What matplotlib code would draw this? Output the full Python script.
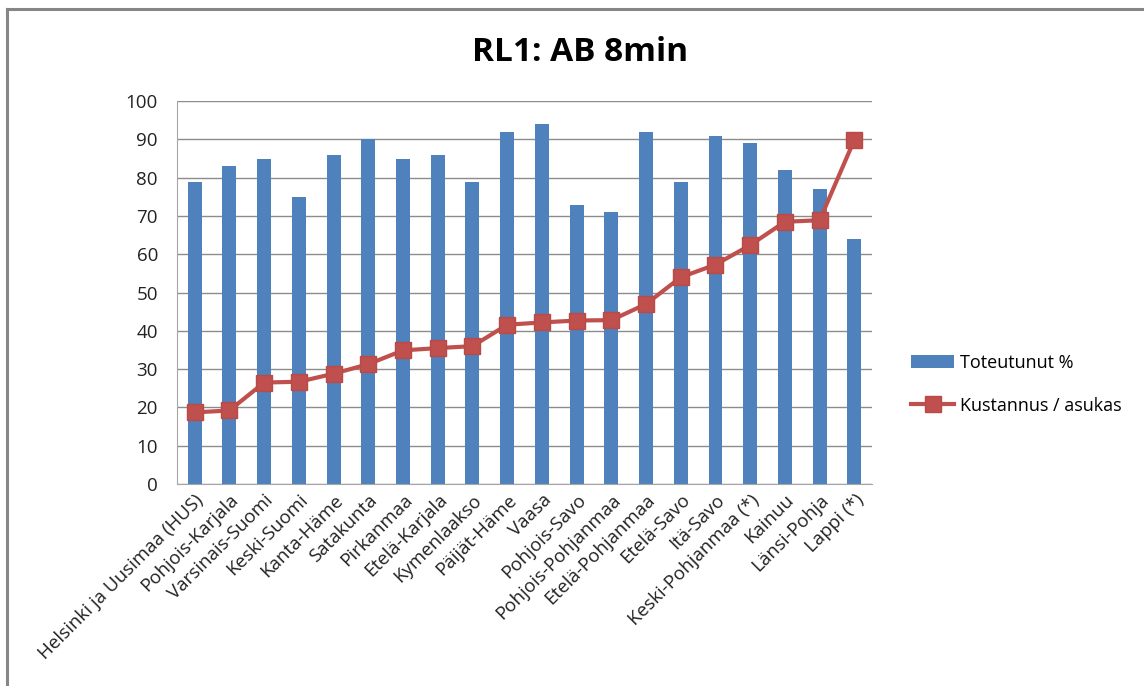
import matplotlib.pyplot as plt
import numpy as np

plt.rcParams['font.family'] = ['Open Sans', 'DejaVu Sans']

regions = ["Helsinki ja Uusimaa (HUS)", "Pohjois-Karjala", "Varsinais-Suomi",
           "Keski-Suomi", "Kanta-Häme", "Satakunta", "Pirkanmaa", "Etelä-Karjala",
           "Kymenlaakso", "Päijät-Häme", "Vaasa", "Pohjois-Savo",
           "Pohjois-Pohjanmaa", "Etelä-Pohjanmaa", "Etelä-Savo", "Itä-Savo",
           "Keski-Pohjanmaa (*)", "Kainuu", "Länsi-Pohja", "Lappi (*)"]
toteutunut = [79, 83, 85, 75, 86, 90, 85, 86, 79, 92,
              94, 73, 71, 92, 79, 91, 89, 82, 77, 64]
kustannus = [18.7, 19.2, 26.5, 26.7, 28.8, 31.3, 34.9, 35.5, 36.0, 41.6,
             42.2, 42.7, 42.8, 47.0, 54.0, 57.3, 62.4, 68.5, 68.9, 89.9]

blue = "#4F81BD"
red = "#C0504D"
grey = "#A6A6A6"

fig = plt.figure(figsize=(11.44, 6.86), dpi=100)
ax = fig.add_axes([0.155, 0.2945, 0.607, 0.558])

x = np.arange(len(regions))
bars = ax.bar(x, toteutunut, width=0.4, color=blue, zorder=2, label="Toteutunut %")
line, = ax.plot(x, kustannus, color=red, lw=3, marker="s", markersize=12,
                markeredgecolor="#B84A47", zorder=3, label="Kustannus / asukas")

ax.set_ylim(0, 100)
ax.set_xlim(-0.5, len(regions) - 0.5)
ax.set_yticks(np.arange(0, 101, 10))
ax.yaxis.grid(True, color="#8C8C8C", lw=1)
ax.set_axisbelow(True)
ax.tick_params(axis="both", length=0, labelsize=13.5, colors="#222222")
ax.tick_params(axis="y", pad=14)
ax.tick_params(axis="x", pad=5)
ax.set_xticks(x)
ax.set_xticklabels(regions, rotation=45, ha="right", rotation_mode="anchor")

for side in ["top", "right"]:
    ax.spines[side].set_visible(False)
for side in ["left", "bottom"]:
    ax.spines[side].set_color(grey)

fig.suptitle("RL1: AB 8min", x=0.507, y=0.948, fontsize=24, fontweight="bold")

fig.legend([bars, line], ["Toteutunut %", "Kustannus / asukas"],
           loc="center left", bbox_to_anchor=(0.782, 0.44), frameon=False,
           fontsize=13, handlelength=2.4, handletextpad=0.3, labelspacing=1.4)

# outer chart frame (top and left edges)
fig.add_artist(plt.Line2D([0.006, 1.0], [0.987, 0.987], color="#868686", lw=2.2,
                          transform=fig.transFigure))
fig.add_artist(plt.Line2D([0.006, 0.006], [0.0, 0.987], color="#868686", lw=2.2,
                          transform=fig.transFigure))

fig.savefig("out.png", dpi=100)
